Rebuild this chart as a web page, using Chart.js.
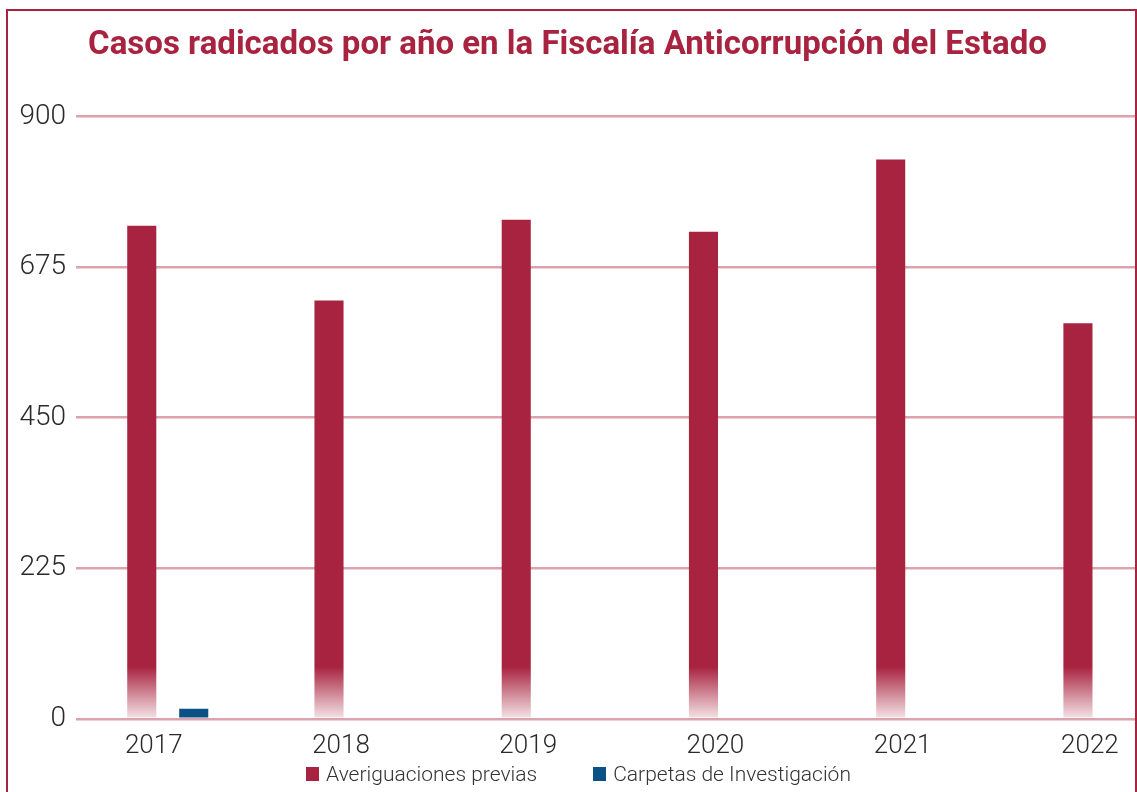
<!DOCTYPE html>
<html lang="es">
<head>
    <meta charset="UTF-8">
    <title>Casos radicados por año</title>
    <style>
        body {
            margin: 0;
            background: #fff;
            overflow: hidden;
        }
        .frame {
            position: absolute;
            left: 6px;
            top: 9px;
            width: 1127px;
            height: 900px;
            border: 2px solid #a8233f;
        }
        .chart-box {
            position: absolute;
            left: 0;
            top: 0;
            width: 1137px;
            height: 792px;
        }
        .legend {
            position: absolute;
            left: 0;
            top: 762px;
            width: 1137px;
            box-sizing: border-box;
            padding-left: 20px;
            display: flex;
            justify-content: center;
            gap: 56px; /* space between the two items */
            font-family: Roboto, sans-serif;
            font-weight: 300;
            font-size: 21px;
            color: #333;
        }
        .legend-item {
            display: flex;
            align-items: center;
        }
        .legend-box {
            display: inline-block;
            width: 13px;
            height: 14px;
            margin-right: 7px;
        }
    </style>
    <script src="https://cdn.jsdelivr.net/npm/chart.js"></script>
</head>
<body>
    <div class="frame"></div>
    <div class="chart-box">
        <canvas id="casosChart"></canvas>
    </div>
    <div class="legend" id="legend"></div>

    <script>
        // data
        const years = ['2017', '2018', '2019', '2020', '2021', '2022'];
        const averiguaciones = [737, 625, 746, 728, 836, 591];
        const carpetas = [15, null, null, null, null, null];
        const yTicks = [0, 225, 450, 675, 900];

        const red = '#a8233f';
        const blue = '#0b5185';
        const gridPink = '#dca2ae';

        // red bars fade out near the zero line
        function redFill(context) {
            const chart = context.chart;
            const area = chart.chartArea;
            if (!area) return red;
            const g = chart.ctx.createLinearGradient(0, area.bottom - 52, 0, area.bottom);
            g.addColorStop(0, red);
            g.addColorStop(1, 'rgba(168, 35, 63, 0.12)');
            return g;
        }

        const datasets = [
            {
                label: 'Averiguaciones previas',
                data: averiguaciones.map((v, i) => ({ x: i, y: v })),
                backgroundColor: redFill,
                legendColor: red
            },
            {
                label: 'Carpetas de Investigación',
                data: carpetas.map((v, i) => ({ x: i, y: v })),
                backgroundColor: blue,
                legendColor: blue
            }
        ];

        const ctx = document.getElementById('casosChart').getContext('2d');
        new Chart(ctx, {
            type: 'bar',
            data: { datasets: datasets },
            options: {
                responsive: true,
                maintainAspectRatio: false,
                animation: false,
                categoryPercentage: 0.555,
                barPercentage: 0.56,
                layout: {
                    padding: { left: 0, right: 2, top: 14, bottom: 26 }
                },
                plugins: {
                    title: {
                        display: true,
                        text: 'Casos radicados por año en la Fiscalía Anticorrupción del Estado',
                        color: red,
                        font: { family: 'Roboto', size: 33, weight: 'bold' },
                        padding: { top: 12, bottom: 51 }
                    },
                    legend: { display: false },
                    tooltip: { enabled: false }
                },
                scales: {
                    x: {
                        type: 'linear',
                        offset: false,
                        min: -0.49,
                        max: 5.166,
                        grid: { display: false },
                        border: { display: false },
                        afterBuildTicks: function(scale) {
                            scale.ticks = years.map((y, i) => ({ value: i }));
                        },
                        ticks: {
                            autoSkip: false,
                            maxRotation: 0,
                            padding: 4,
                            labelOffset: -14,
                            color: '#2a2a2a',
                            font: { family: 'Roboto', size: 26, weight: '300' },
                            callback: function(value) {
                                return years[Math.round(value)];
                            }
                        }
                    },
                    y: {
                        min: 0,
                        max: 900,
                        afterFit: function(scale) {
                            scale.width = 76;
                        },
                        afterBuildTicks: function(scale) {
                            scale.ticks = yTicks.map(v => ({ value: v }));
                        },
                        grid: {
                            color: gridPink,
                            lineWidth: 2.5,
                            drawTicks: false
                        },
                        border: { display: false },
                        ticks: {
                            padding: 10,
                            color: '#2a2a2a',
                            font: { family: 'Roboto', size: 28, weight: '300' }
                        }
                    }
                }
            }
        });

        // simple html legend so the gap between items can match
        const legend = document.getElementById('legend');
        datasets.forEach(ds => {
            const item = document.createElement('span');
            item.className = 'legend-item';
            item.innerHTML = '<span class="legend-box" style="background:' + ds.legendColor + '"></span>' + ds.label;
            legend.appendChild(item);
        });
    </script>
</body>
</html>
